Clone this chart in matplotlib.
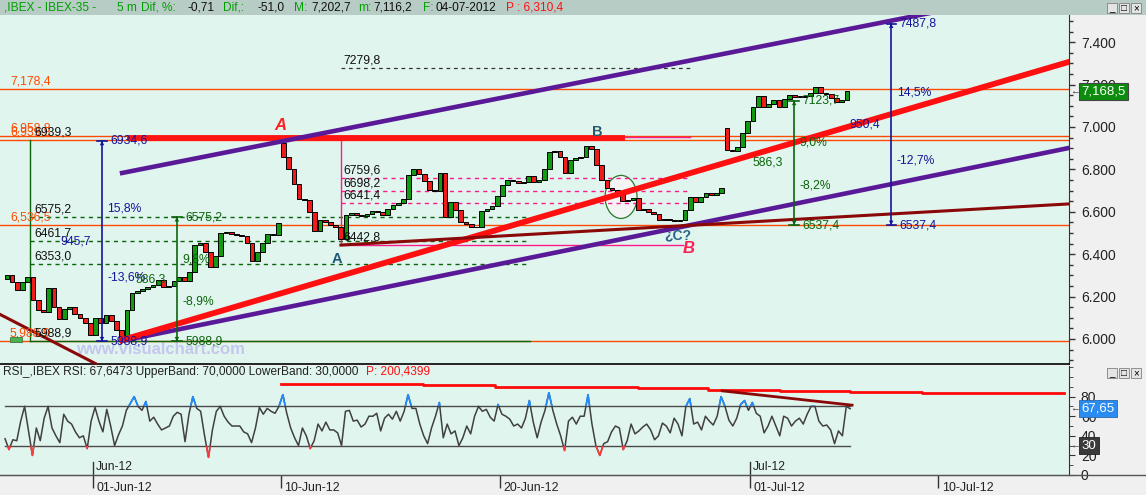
import numpy as np
import matplotlib
matplotlib.use("Agg")
import matplotlib.pyplot as plt
from matplotlib.patches import Rectangle, Ellipse
from matplotlib.lines import Line2D
import matplotlib.ticker as mticker
import matplotlib.transforms as mtrans

plt.rcParams['font.family'] = ['Liberation Sans', 'DejaVu Sans']

# ---------------- data ----------------
candle_start_day = -2.75          # trading-day index (0 = 01-Jun-12)
bars_per_day = 6
closes = [6302, 6270, 6231, 6269, 6292, 6184, 6137, 6125, 6241, 6151,
          6095, 6140, 6151, 6120, 6100, 6075, 6019, 6100, 6075, 6115,
          6085, 6042, 6000, 6137, 6215, 6228, 6238, 6245, 6255, 6278,
          6245, 6252, 6272, 6290, 6272, 6316, 6445, 6453, 6410, 6340,
          6390, 6500, 6505, 6495, 6491, 6485, 6453, 6370, 6410, 6455,
          6495, 6490, 6547, 6858, 6800, 6730, 6660, 6655, 6600, 6510,
          6561, 6552, 6538, 6530, 6470, 6585, 6594, 6585, 6578, 6590,
          6603, 6600, 6585, 6612, 6632, 6640, 6660, 6775, 6800, 6780,
          6745, 6705, 6700, 6783, 6575, 6646, 6610, 6552, 6543, 6530,
          6528, 6605, 6614, 6625, 6675, 6724, 6750, 6744, 6738, 6740,
          6770, 6740, 6750, 6800, 6882, 6885, 6860, 6783, 6844, 6852,
          6857, 6910, 6895, 6820, 6750, 6712, 6703, 6694, 6650, 6656,
          6665, 6608, 6615, 6597, 6590, 6561, 6566, 6560, 6556, 6561,
          6610, 6670, 6645, 6668, 6690, 6680, 6689, 6712, 6892, 6885,
          6905, 6972, 7030, 7094, 7145, 7094, 7110, 7125, 7092, 7130,
          7150, 7140, 7142, 7148, 7160, 7190, 7160, 7155, 7138, 7118,
          7125, 7168.5]
special_opens = {0: 6285.0, 53: 6925.0, 138: 6995.0}

rsi_start_day = -2.81
rsi_per_day = 8
rsi = [37, 26, 36, 35, 55, 70, 45, 20, 48, 35,
       58, 70, 48, 40, 33, 62, 55, 52, 44, 38,
       40, 27, 55, 69, 55, 44, 67, 50, 30, 41,
       50, 66, 73, 80, 70, 66, 75, 55, 59, 52,
       46, 48, 50, 60, 64, 62, 34, 62, 80, 68,
       65, 40, 18, 46, 65, 70, 60, 54, 50, 50,
       50, 44, 42, 33, 48, 69, 62, 68, 65, 63,
       70, 82, 63, 48, 38, 30, 48, 40, 27, 35,
       52, 45, 54, 46, 46, 43, 30, 65, 66, 55,
       56, 49, 52, 60, 60, 63, 45, 58, 62, 57,
       65, 55, 65, 82, 68, 68, 52, 40, 32, 48,
       60, 74, 38, 52, 42, 45, 30, 38, 50, 42,
       60, 70, 65, 67, 59, 55, 72, 62, 60, 57,
       50, 52, 48, 58, 76, 54, 38, 54, 66, 84,
       66, 52, 40, 25, 55, 59, 52, 60, 60, 82,
       52, 30, 20, 32, 34, 44, 50, 48, 26, 35,
       52, 42, 45, 49, 52, 46, 36, 40, 53, 50,
       43, 58, 52, 40, 70, 78, 52, 54, 46, 60,
       55, 51, 60, 80, 70, 56, 50, 58, 72, 76,
       66, 74, 63, 60, 43, 50, 60, 50, 40, 60,
       58, 50, 55, 58, 52, 62, 70, 70, 55, 50,
       51, 46, 32, 45, 40, 70, 67.65]
rsi_upper, rsi_lower = 70, 30
p_days = [6.0, 8.27, 10.54, 12.84, 15.11, 17.41, 19.65, 21.95, 24.19, 26.49, 28.79, 31.02]
p_vals = [93.4, 92.7, 91.8, 90.1, 89.5, 88.5, 87.2, 86.2, 85.2, 84.2, 83.6]
rsi_trend_days = [20.1, 24.25]
rsi_trend_vals = [85.9, 71.3]

date_ticks = [0, 6, 13, 21, 27]
date_labels = ["01-Jun-12", "10-Jun-12", "20-Jun-12", "01-Jul-12", "10-Jul-12"]
month_ticks = [0, 21]
month_labels = ["Jun-12", "Jul-12"]

levels = [7178.4, 6958.8, 6939.3, 6536.5, 5988.9]

purple_upper = ([0.93, 27.0], [6783, 7545])
purple_lower = ([0.93, 31.18], [5991, 6901])
red_trend = ([0.93, 31.18], [5995, 7307])
brown_trend = ([7.92, 31.18], [6443, 6637])
brown_down = ([-2.971, 0.224], [6116, 5873])
ab_line = ([1.086, 17.0], [6946, 6946])

fib1_days = (-2.01, 13.96)
fib1_high, fib1_low = 6939.3, 5988.9
fib1_levels = [6575.2, 6461.7, 6353.0]

fib2_days = (7.92, 19.07)
fib2_box_end = 18.85
fib2_top, fib2_low = 6953.0, 6442.8
fib2_levels = [6759.6, 6698.2, 6641.4]
ext_level = 7279.8

measures = [(0.288, 6934.6, 5988.9, '#14149a'),
            (2.68, 6575.2, 5988.9, '#0a640a'),
            (25.5, 7487.8, 6537.4, '#14149a'),
            (22.4, 7123.7, 6537.4, '#0a640a')]

wave_labels = [("A", 6.0, 7005, '#ff2020', 'italic', 12),
               ("A", 7.80, 6377, '#1f5a78', 'normal', 10.5),
               ("B", 16.1, 6978, '#2a5a6a', 'normal', 10.5),
               ("B", 19.04, 6429, '#ff2050', 'italic', 12),
               ("¿C?", 18.69, 6491, '#2a6488', 'normal', 10)]

# ---------------- figure ----------------
W, H = 1146, 495
fig = plt.figure(figsize=(11.46, 4.95), dpi=100)
fig.patch.set_facecolor('#f0f0f0')
fx = lambda px: px / W
fy = lambda py: 1 - py / H
BG = '#e1f5ef'

fig.patches.append(Rectangle((0, fy(15)), 1, 15 / H, transform=fig.transFigure,
                             facecolor='#b8ccc6', edgecolor='none', zorder=0))

def fmt1(v):
    return f"{v:.1f}".replace('.', ',')

def fmt_th(v):
    return f"{v:,.1f}".replace('.', ',')

# header text
hdr_green, hdr_black = '#00a000', '#101010'
hdr = [(4, ",IBEX - IBEX-35 -", hdr_green), (117, "5 m", hdr_green), (141, "Dif, %:", hdr_green),
       (188, "-0,71", hdr_black), (223, "Dif,:", hdr_green), (258, "-51,0", hdr_black),
       (294, "M:", hdr_green), (311, "7,202,7", hdr_black), (358, "m:", hdr_green),
       (373, "7,116,2", hdr_black), (423, "F:", hdr_green), (435, "04-07-2012", hdr_black),
       (506, "P : 6,310,4", '#ff1010')]
for x, s, c in hdr:
    fig.text(fx(x), fy(8), s, color=c, fontsize=8.6, ha='left', va='center')

def buttons(ytop):
    for x, g in [(1107, '_'), (1119, '□'), (1131, '×')]:
        fig.patches.append(Rectangle((fx(x), fy(ytop + 10)), 10 / W, 10 / H, transform=fig.transFigure,
                                     facecolor='#e4e4e4', edgecolor='#808080', lw=0.6, zorder=5))
        fig.text(fx(x + 5), fy(ytop + 5), g, ha='center', va='center', fontsize=7, zorder=6)

buttons(3)
buttons(368)

# ---------------- main price panel ----------------
ax = fig.add_axes([0, fy(364), 1069 / W, (364 - 15) / H])
ax.set_facecolor(BG)
ax.set_xlim(-2.971, 31.18)
ax.set_ylim(5882, 7528)

closes_a = np.array(closes, dtype=float)
n = len(closes_a)
t = candle_start_day + np.arange(n) / bars_per_day
opens = np.r_[closes_a[0], closes_a[:-1]]
for k, v in special_opens.items():
    opens[k] = v
h = closes_a - opens
h = np.where(np.abs(h) < 4, np.where(h >= 0, 4, -4), h)
cols = np.where(closes_a >= opens, '#129a12', '#f01c1c')
ax.bar(t, h, bottom=opens, width=0.15, color=cols, edgecolor='black', linewidth=0.7, zorder=4)

# horizontal orange levels
for lv in levels:
    ax.axhline(lv, color='#ff4a00', lw=1.0, zorder=2)
    ax.annotate(fmt_th(lv), (10 / 1069, lv), xycoords=('axes fraction', 'data'),
                xytext=(0, 1), textcoords='offset points', color='#ff4a00',
                fontsize=8.7, ha='left', va='bottom', zorder=9)

# ellipse
ax.add_patch(Ellipse((16.87, 6670), 1.02, 203, facecolor='#f4f4f4', edgecolor='#2a7a2a',
                     lw=0.9, zorder=3))

# fib 1 (green)
ax.plot([fib1_days[0]] * 2, [fib1_high, fib1_low], color='#0a640a', lw=1.0, zorder=3)
ax.plot(fib1_days, [fib1_low] * 2, color='#0a640a', lw=1.0, zorder=3)
for lv in fib1_levels:
    ax.plot(fib1_days, [lv] * 2, color='#0a640a', lw=1.0, ls=(0, (3, 3)), zorder=3)
for lv in [fib1_high] + fib1_levels + [fib1_low]:
    ax.annotate(fmt1(lv), (fib1_days[0], lv), xytext=(3, 1), textcoords='offset points',
                fontsize=8.7, color='#111', ha='left', va='bottom', zorder=9)

# fib 2 (pink)
pink = '#ff1a8c'
ax.plot([fib2_days[0]] * 2, [fib2_top, fib2_low], color=pink, lw=1.0, zorder=3)
ax.plot([fib2_days[0], fib2_box_end], [fib2_low] * 2, color=pink, lw=1.0, zorder=3)
ax.plot([fib2_days[0], fib2_days[1]], [fib2_top] * 2, color=pink, lw=1.0, zorder=3)
for lv in fib2_levels:
    ax.plot(fib2_days, [lv] * 2, color=pink, lw=1.0, ls=(0, (3, 3)), zorder=3)
for lv in fib2_levels + [fib2_low]:
    ax.annotate(fmt1(lv), (fib2_days[0], lv), xytext=(2, 1), textcoords='offset points',
                fontsize=8.7, color='#111', ha='left', va='bottom', zorder=9)
ax.plot(fib2_days, [ext_level] * 2, color='#333333', lw=0.9, ls=(0, (3, 3)), zorder=3)
ax.annotate(fmt1(ext_level), (fib2_days[0], ext_level), xytext=(2, 1), textcoords='offset points',
            fontsize=8.7, color='#111', ha='left', va='bottom', zorder=9)

# trend lines
ax.plot(*ab_line, color='#ff1414', lw=4.2, solid_capstyle='butt', zorder=5)
ax.plot(*purple_upper, color='#5a1a98', lw=3.3, zorder=5)
ax.plot(*purple_lower, color='#5a1a98', lw=3.3, zorder=5)
ax.plot(*red_trend, color='#ff1010', lw=4.2, zorder=5)
ax.plot(*brown_trend, color='#8a0808', lw=2.2, zorder=5)
ax.plot(*brown_down, color='#8a0808', lw=2.2, zorder=5)

# measurement tools
for (tm, top, bot, col) in measures:
    d = top - bot
    mid = bot + d / 2
    ax.plot([tm, tm], [top, bot], color=col, lw=1.2, zorder=7)
    for yv in (top, bot):
        ax.plot([tm - 0.15, tm + 0.15], [yv, yv], color=col, lw=1.2, zorder=7)
        ax.annotate('', xy=(tm, yv), xytext=(tm, mid),
                    arrowprops=dict(arrowstyle='-|>', color=col, lw=0, mutation_scale=8,
                                    shrinkA=0, shrinkB=0), zorder=7)
    kw = dict(textcoords='offset points', color=col, fontsize=8.7, va='center', zorder=9)
    ax.annotate(fmt1(top), (tm, top), xytext=(6, 0), ha='left', **kw)
    ax.annotate(fmt1(bot), (tm, bot), xytext=(6, 0), ha='left', **kw)
    ax.annotate(fmt1(d / bot * 100) + '%', (tm, top - 0.34 * d), xytext=(4, 0), ha='left', **kw)
    ax.annotate('-' + fmt1(d / top * 100) + '%', (tm, top - 0.68 * d), xytext=(4, 0), ha='left', **kw)
    ax.annotate(fmt1(d), (tm, mid), xytext=(-8, 0), ha='right', **kw)

# wave labels
for s, xd, yv, c, st, fs in wave_labels:
    ax.text(xd, yv, s, color=c, fontsize=fs, fontweight='bold', fontstyle=st,
            ha='center', va='center', zorder=10)

# watermark
ax.text(160 / 1069, 14 / 349, "www.visualchart.com", transform=ax.transAxes, color='#c4c6ee',
        fontsize=12, fontweight='bold', ha='center', va='center', zorder=1)
ax.add_patch(Rectangle((10 / 1069, 22 / 349), 12 / 1069, 5 / 349, transform=ax.transAxes,
                       facecolor='#4caf50', edgecolor='#2a6a2a', lw=0.5, zorder=9))

# axes styling
ax.yaxis.tick_right()
ax.set_yticks(np.arange(6000, 7401, 200))
ax.yaxis.set_minor_locator(mticker.MultipleLocator(50))
ax.yaxis.set_major_formatter(mticker.FuncFormatter(lambda v, p: f"{v:,.0f}".replace(',', '.')))
ax.tick_params(axis='y', which='major', length=4.5, width=1, direction='out', pad=4,
               labelsize=10, colors='#333333', labelcolor='#222222')
ax.tick_params(axis='y', which='minor', length=3, width=1, colors='#333333')
ax.set_xticks([])
for s in ('top', 'left'):
    ax.spines[s].set_visible(False)
ax.spines['right'].set_color('#333333')
ax.spines['bottom'].set_color('black')
ax.spines['bottom'].set_linewidth(1.2)

# last price box
ax.annotate(fmt_th(closes[-1]), (1.0, closes[-1]), xycoords=('axes fraction', 'data'),
            xytext=(9, 0), textcoords='offset points', ha='left', va='center',
            color='white', fontsize=9.5, annotation_clip=False, zorder=10,
            bbox=dict(boxstyle='square,pad=0.18', facecolor='#0c8c0c', edgecolor='#444', lw=0.8))
ax.annotate('←', (1.0, closes[-1]), xycoords=('axes fraction', 'data'), xytext=(1, 0),
            textcoords='offset points', ha='left', va='center', fontsize=7, color='#333',
            annotation_clip=False)

# ---------------- RSI panel ----------------
ax2 = fig.add_axes([0, fy(475), 1069 / W, (475 - 366) / H])
ax2.set_facecolor(BG)
ax2.set_xlim(-2.971, 31.18)
ax2.set_ylim(4.93, 111.27)

rsi_a = np.array(rsi, dtype=float)
tr = rsi_start_day + np.arange(len(rsi_a)) / rsi_per_day
ax2.plot([tr[0], tr[-1]], [rsi_upper] * 2, color='#4a4a4a', lw=1.0, zorder=2)
ax2.plot([tr[0], tr[-1]], [rsi_lower] * 2, color='#4a4a4a', lw=1.0, zorder=2)
ax2.plot(tr, rsi_a, color='#404040', lw=1.1, zorder=3)
lb = ax2.plot(tr, rsi_a, color='#1e8cff', lw=1.2, zorder=4)[0]
lb.set_clip_path(Rectangle((-10, rsi_upper), 60, 100, transform=ax2.transData))
lr = ax2.plot(tr, rsi_a, color='#ff3a3a', lw=1.2, zorder=4)[0]
lr.set_clip_path(Rectangle((-10, -50), 60, 50 + rsi_lower, transform=ax2.transData))
ax2.step(p_days, p_vals + [p_vals[-1]], where='post', color='#ff0a0a', lw=2.0, zorder=5)
ax2.plot(rsi_trend_days, rsi_trend_vals, color='#8a0808', lw=2.0, zorder=5)

ax2.text(3 / 1069, (475 - 372) / 109,
         "RSI_,IBEX RSI: 67,6473 UpperBand: 70,0000 LowerBand: 30,0000",
         transform=ax2.transAxes, color='#222222', fontsize=8.6, ha='left', va='center')
ax2.text(366 / 1069, (475 - 372) / 109, "P: 200,4399", transform=ax2.transAxes,
         color='#ff1010', fontsize=8.6, ha='left', va='center')

for md, ml in zip(month_ticks, month_labels):
    ax2.plot([md, md], [0, 0.12], transform=ax2.get_xaxis_transform(), color='#333', lw=1)
    ax2.text(md + 0.08, 0.075, ml, transform=ax2.get_xaxis_transform(), fontsize=8.7,
             color='#222', ha='left', va='center')

ax2.yaxis.tick_right()
ax2.set_yticks([0, 20, 40, 60, 80])
ax2.yaxis.set_minor_locator(mticker.MultipleLocator(10))
ax2.tick_params(axis='y', which='major', length=4.5, direction='out', pad=4, labelsize=10,
                colors='#333333', labelcolor='#222222')
ax2.tick_params(axis='y', which='minor', length=3, colors='#333333')
ax2.set_xticks(date_ticks)
ax2.set_xticklabels(date_labels)
ax2.tick_params(axis='x', length=9, width=1, direction='out', pad=-4, labelsize=8.9,
                colors='#333333', labelcolor='#222222')
off = mtrans.ScaledTranslation(2.5 / 72, 0, fig.dpi_scale_trans)
for lab in ax2.get_xticklabels():
    lab.set_horizontalalignment('left')
    lab.set_transform(lab.get_transform() + off)
for s in ('top', 'left'):
    ax2.spines[s].set_visible(False)
ax2.spines['right'].set_color('#333333')
ax2.spines['bottom'].set_color('#555555')

ax2.annotate(f"{rsi[-1]:.2f}".replace('.', ','),
             (1.0, rsi[-1]), xycoords=('axes fraction', 'data'), xytext=(9, 0),
             textcoords='offset points', ha='left', va='center', color='white', fontsize=9.5,
             annotation_clip=False, zorder=10,
             bbox=dict(boxstyle='square,pad=0.18', facecolor='#2a8cf0', edgecolor='#2a6ab0', lw=0.6))
ax2.annotate(f"{rsi_lower}", (1.0, rsi_lower), xycoords=('axes fraction', 'data'), xytext=(9, 0),
             textcoords='offset points', ha='left', va='center', color='white', fontsize=9.5,
             annotation_clip=False, zorder=10,
             bbox=dict(boxstyle='square,pad=0.18', facecolor='#3a3a3a', edgecolor='#222', lw=0.6))
for yv in (rsi[-1], rsi_lower):
    ax2.annotate('←', (1.0, yv), xycoords=('axes fraction', 'data'), xytext=(1, 0),
                 textcoords='offset points', ha='left', va='center', fontsize=7, color='#333',
                 annotation_clip=False)

fig.add_artist(Line2D([0, 1], [fy(475), fy(475)], transform=fig.transFigure, color='#555555', lw=1))

fig.savefig("out.png", dpi=100, facecolor=fig.get_facecolor())
